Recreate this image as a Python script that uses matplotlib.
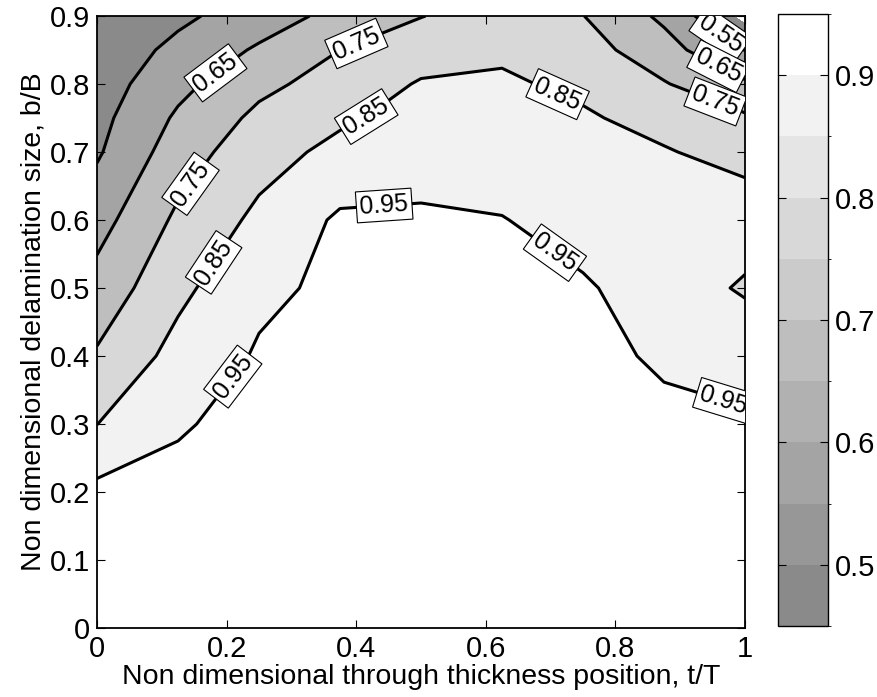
import matplotlib
matplotlib.use("Agg")
import matplotlib.pyplot as plt
from matplotlib.colors import ListedColormap, BoundaryNorm
from matplotlib.cm import ScalarMappable

plt.rcParams["font.family"] = ["Liberation Sans", "DejaVu Sans"]
plt.rcParams["font.size"] = 20

# grid: t/T (columns) and b/B (rows)
t_pos = [0, 0.125, 0.25, 0.375, 0.5, 0.625, 0.75, 0.875, 1.0]
b_size = [0, 0.1, 0.2, 0.3, 0.4, 0.5, 0.6, 0.7, 0.75, 0.8, 0.85, 0.9]
ratio = [
    [0.990, 0.990, 0.995, 0.995, 0.995, 0.995, 0.995, 0.995, 0.990],
    [0.985, 0.985, 0.990, 0.995, 0.995, 0.995, 0.995, 0.990, 0.985],
    [0.975, 0.968, 0.980, 0.990, 0.995, 0.995, 0.990, 0.980, 0.975],
    [0.849, 0.944, 0.970, 0.985, 0.990, 0.990, 0.980, 0.966, 0.957],
    [0.761, 0.883, 0.960, 0.980, 0.985, 0.980, 0.970, 0.940, 0.929],
    [0.686, 0.826, 0.930, 0.970, 0.975, 0.970, 0.959, 0.912, 0.836],
    [0.612, 0.769, 0.872, 0.965, 0.963, 0.953, 0.919, 0.884, 0.906],
    [0.538, 0.701, 0.812, 0.876, 0.911, 0.908, 0.880, 0.857, 0.816],
    [0.520, 0.665, 0.773, 0.835, 0.885, 0.886, 0.861, 0.819, 0.765],
    [0.500, 0.622, 0.725, 0.792, 0.858, 0.863, 0.831, 0.757, 0.665],
    [0.485, 0.575, 0.663, 0.750, 0.808, 0.835, 0.791, 0.690, 0.548],
    [0.470, 0.530, 0.600, 0.680, 0.747, 0.800, 0.752, 0.630, 0.420],
]

fill_levels = [0.45, 0.55, 0.65, 0.75, 0.85, 0.95, 1.0]
line_levels = [0.55, 0.65, 0.75, 0.85, 0.95]
fill_grays = ["#8a8a8a", "#a4a4a4", "#bebebe", "#d8d8d8", "#f2f2f2", "#ffffff"]

cbar_bounds = [0.45, 0.5, 0.55, 0.6, 0.65, 0.7, 0.75, 0.8, 0.85, 0.9, 0.95]
cbar_grays = ["#8a8a8a", "#979797", "#a4a4a4", "#b1b1b1", "#bebebe",
              "#cbcbcb", "#d8d8d8", "#e5e5e5", "#f2f2f2", "#ffffff"]

label_pos = [
    (0.174, 0.828), (0.398, 0.865), (0.136, 0.659), (0.151, 0.556),
    (0.414, 0.754), (0.444, 0.61), (0.715, 0.794), (0.715, 0.563),
    (0.216, 0.365), (0.965, 0.328), (0.961, 0.872), (0.958, 0.824),
    (0.955, 0.776),
]

fig = plt.figure(figsize=(8.78, 6.97), dpi=100)
ax = fig.add_axes([97 / 878, 69 / 697, 648 / 878, 612 / 697])

ax.contourf(t_pos, b_size, ratio, levels=fill_levels, colors=fill_grays)
cs = ax.contour(t_pos, b_size, ratio, levels=line_levels, colors="black",
                linewidths=2.2)
labels = ax.clabel(cs, inline=False, fontsize=18, fmt="%.2f", manual=label_pos)
for txt in labels:
    txt.set_bbox(dict(facecolor="white", edgecolor="black", linewidth=0.8,
                      pad=2.5))
    txt.set_clip_on(True)

ax.set_xlim(0, 1)
ax.set_ylim(0, 0.9)
ax.set_xticks([0, 0.2, 0.4, 0.6, 0.8, 1])
ax.set_xticklabels(["0", "0.2", "0.4", "0.6", "0.8", "1"])
ax.set_yticks([0, 0.1, 0.2, 0.3, 0.4, 0.5, 0.6, 0.7, 0.8, 0.9])
ax.set_yticklabels(["0", "0.1", "0.2", "0.3", "0.4", "0.5", "0.6", "0.7",
                    "0.8", "0.9"])
ax.tick_params(direction="in", top=True, right=True, length=6, labelsize=21,
               pad=5)
for sp in ax.spines.values():
    sp.set_linewidth(1.3)
ax.set_xlabel("Non dimensional through thickness position, t/T", fontsize=20.5,
              labelpad=1)
ax.set_ylabel("Non dimensional delamination size, b/B", fontsize=20.5,
              labelpad=2)

cax = fig.add_axes([778 / 878, 71 / 697, 50 / 878, 612 / 697])
sm = ScalarMappable(norm=BoundaryNorm(cbar_bounds, len(cbar_grays)),
                    cmap=ListedColormap(cbar_grays))
cb = fig.colorbar(sm, cax=cax, ticks=[0.5, 0.6, 0.7, 0.8, 0.9])
cb.ax.set_yticklabels(["0.5", "0.6", "0.7", "0.8", "0.9"])
cb.ax.tick_params(direction="in", left=True, right=True, length=6,
                  labelsize=21, pad=5)
cb.outline.set_linewidth(1.0)

fig.savefig("out.png", dpi=100)
plt.close(fig)
